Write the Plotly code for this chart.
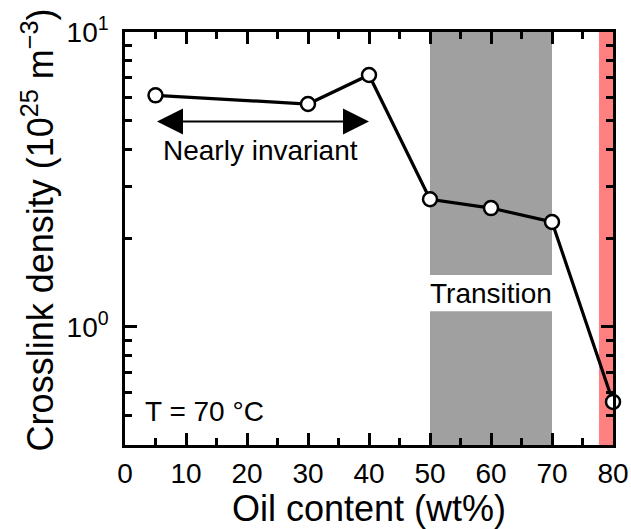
import math
import plotly.graph_objects as go

# ---- data ----
oil_content = [5, 30, 40, 50, 60, 70, 80]
crosslink_density = [6.1, 5.7, 7.15, 2.71, 2.53, 2.27, 0.557]

x_major_ticks = [0, 10, 20, 30, 40, 50, 60, 70, 80]
x_minor_ticks = [5, 15, 25, 35, 45, 55, 65, 75]
y_major_ticks = [1, 10]
y_major_text = ["10<sup>0</sup>", "10<sup>1</sup>"]
y_minor_ticks = [0.4, 0.5, 0.6, 0.7, 0.8, 0.9, 2, 3, 4, 5, 6, 7, 8, 9]

x_range = [0, 80]
y_range = [0.398, 10]

transition_band = [50, 70]
transition_gap = [1.13, 1.5]
collapse_band = [77.7, 80]
arrow_span = [5, 40]
arrow_level = 4.97

FONT = "Liberation Sans, Arial, sans-serif"

fig = go.Figure()

# shaded regions
fig.add_shape(type="rect", xref="x", yref="y", x0=transition_band[0], x1=transition_band[1],
              y0=y_range[0], y1=transition_gap[0], fillcolor="#a0a0a0", line_width=0, layer="below")
fig.add_shape(type="rect", xref="x", yref="y", x0=transition_band[0], x1=transition_band[1],
              y0=transition_gap[1], y1=y_range[1], fillcolor="#a0a0a0", line_width=0, layer="below")
fig.add_shape(type="rect", xref="x", yref="y", x0=collapse_band[0], x1=collapse_band[1],
              y0=y_range[0], y1=y_range[1], fillcolor="#ff8080", line_width=0, layer="below")

fig.add_trace(go.Scatter(
    x=oil_content, y=crosslink_density, mode="lines+markers",
    line=dict(color="black", width=3.2),
    marker=dict(size=14, color="white", line=dict(color="black", width=2.5)),
    cliponaxis=False, showlegend=False,
))

# double arrow
fig.add_annotation(x=arrow_span[1], y=math.log10(arrow_level), ax=arrow_span[0], ay=math.log10(arrow_level),
                   xref="x", yref="y", axref="x", ayref="y", text="", showarrow=True,
                   arrowhead=2, startarrowhead=2, arrowside="end+start", arrowsize=2.6,
                   startarrowsize=2.6, arrowwidth=2, arrowcolor="black")

fig.add_annotation(x=22.2, y=math.log10(3.98), text="Nearly invariant", showarrow=False,
                   font=dict(family=FONT, size=28, color="black"))
fig.add_annotation(x=60, y=math.log10(1.3), text="Transition", showarrow=False,
                   font=dict(family=FONT, size=28, color="black"))
fig.add_annotation(x=2.9, y=math.log10(0.515), text="T = 70 °C", showarrow=False, xanchor="left",
                   font=dict(family=FONT, size=28, color="black"))

# y-axis title placed as rotated annotation
fig.add_annotation(xref="paper", yref="paper", x=-0.178, y=0.52, xanchor="center", yanchor="middle",
                   textangle=-90, showarrow=False,
                   text="Crosslink density (10<sup>25</sup> m<sup>\u22123</sup>)",
                   font=dict(family=FONT, size=36, color="black"))

fig.update_layout(
    width=631, height=529,
    margin=dict(l=125, r=18, t=32, b=84),
    paper_bgcolor="white", plot_bgcolor="white",
    font=dict(family=FONT, color="black"),
    xaxis=dict(
        range=x_range, tickvals=x_major_ticks, ticks="inside", ticklen=12, tickwidth=2.5,
        tickcolor="black", showline=True, linewidth=2.5, linecolor="black", mirror="ticks",
        showgrid=False, zeroline=False, tickfont=dict(size=28), ticklabelstandoff=2,
        automargin=False,
        minor=dict(tickvals=x_minor_ticks, ticks="inside", ticklen=7, tickwidth=2.5,
                   tickcolor="black", showgrid=False),
        title=dict(text="Oil content (wt%)", font=dict(size=36), standoff=2),
    ),
    yaxis=dict(
        type="log", range=[math.log10(y_range[0]), math.log10(y_range[1])],
        tickvals=y_major_ticks, ticktext=y_major_text, ticks="inside", ticklen=12, tickwidth=2.5,
        tickcolor="black", showline=True, linewidth=2.5, linecolor="black", mirror="ticks",
        showgrid=False, zeroline=False, tickfont=dict(size=28), ticklabelstandoff=8,
        automargin=False,
        minor=dict(tickvals=y_minor_ticks, ticks="inside", ticklen=7, tickwidth=2.5,
                   tickcolor="black", showgrid=False),
    ),
)

fig.write_html("out.html")
